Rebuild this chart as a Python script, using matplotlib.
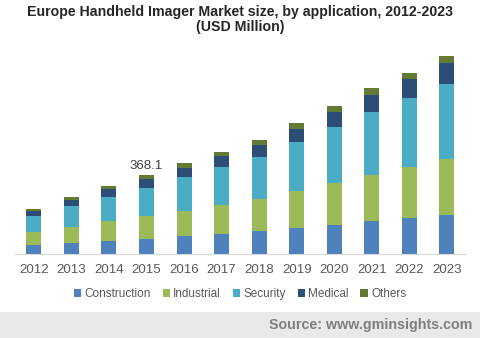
import matplotlib.pyplot as plt
import numpy as np
from matplotlib.patches import Rectangle

plt.rcParams["font.family"] = ["Liberation Sans", "DejaVu Sans"]

years = ["2012", "2013", "2014", "2015", "2016", "2017",
         "2018", "2019", "2020", "2021", "2022", "2023"]
construction = [42, 52, 62, 71, 85, 94, 105, 119, 133, 151, 165, 182]
industrial = [62, 74, 93, 107, 116, 135, 148, 172, 198, 217, 240, 261]
security = [73, 97, 111, 130, 158, 176, 195, 227, 257, 292, 320, 348]
medical = [23, 26, 36, 40, 42, 51, 56, 60, 70, 80, 85, 96]
others = [8, 14, 15, 20.1, 19, 19, 23, 28, 28, 28, 31, 34]

series = [
    ("Construction", construction, "#4f81bd"),
    ("Industrial", industrial, "#9bbb59"),
    ("Security", security, "#4bacc6"),
    ("Medical", medical, "#2c4d75"),
    ("Others", others, "#637a35"),
]

fig = plt.figure(figsize=(4.8, 3.38), dpi=100)
ax = fig.add_axes([14 / 480, 84 / 338, 452 / 480, 215.5 / 338])

x = np.arange(len(years))
bottom = np.zeros(len(years))
handles = []
for name, vals, color in series:
    h = ax.bar(x, vals, width=0.4, bottom=bottom, color=color, label=name)
    handles.append(h)
    bottom += np.array(vals)

# total label on 2015
idx = years.index("2015")
ax.text(x[idx], bottom[idx] + 40, f"{bottom[idx]:.1f}", ha="center", va="center",
        fontsize=9.5, color="#404040")

ax.set_xlim(-0.53, 11.51)
ax.set_ylim(0, 1000)
ax.set_xticks(x)
ax.set_xticklabels(years, fontsize=9.5, color="#595959")
ax.tick_params(axis="x", length=0, pad=7)
ax.set_yticks([])
for side in ["top", "right", "left"]:
    ax.spines[side].set_visible(False)
ax.spines["bottom"].set_color("#d9d9d9")

fig.text(0.5, 1 - 12 / 338, "Europe Handheld Imager Market size, by application, 2012-2023",
         ha="center", va="center", fontsize=10.2, fontweight="bold", color="#262626")
fig.text(0.5, 1 - 27 / 338, "(USD Million)",
         ha="center", va="center", fontsize=10.2, fontweight="bold", color="#262626")

fig.legend(handles=handles, loc="center", bbox_to_anchor=(0.5, 1 - 294 / 338),
           ncol=5, frameon=False, fontsize=8.5, handlelength=0.6, handleheight=0.6,
           handletextpad=0.3, columnspacing=1.0, labelcolor="#595959")

# footer band
fig.patches.append(Rectangle((0, 0), 1, 26 / 338, transform=fig.transFigure,
                             facecolor="#e9e9e9", edgecolor="none", zorder=0))
fig.text(472 / 480, 13 / 338, "Source: www.gminsights.com", ha="right", va="center",
         fontsize=10.3, fontweight="bold", color="#7f7f7f")

fig.savefig("out.png", dpi=100)
